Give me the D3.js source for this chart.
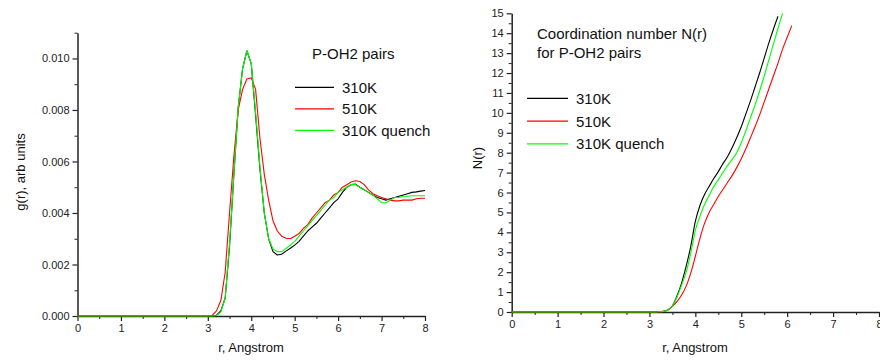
<!DOCTYPE html>
<html>
<head>
<meta charset="utf-8">
<script src="https://cdn.jsdelivr.net/npm/d3@7"></script>
<style>
  html, body { margin: 0; padding: 0; background: #fff; }
  svg { display: block; font-family: "Liberation Sans", Arial, sans-serif; }
  .axis path, .axis line { stroke: #222; }
  .axis text { fill: #222; font-size: 11px; font-family: "Liberation Sans", Arial, sans-serif; }
</style>
</head>
<body>
<svg id="chart" width="880" height="364"></svg>
<script>
// ---- Radial distribution function g(r), P-OH2 pairs ----
const gR = [0, 1, 2, 3.0, 3.1, 3.2, 3.3, 3.4, 3.5, 3.6, 3.7, 3.8, 3.9, 4.0, 4.1, 4.2, 4.3, 4.4, 4.5,
  4.6, 4.7, 4.8, 4.9, 5.0, 5.1, 5.2, 5.3, 5.4, 5.5, 5.6, 5.7, 5.8, 5.9, 6.0, 6.1, 6.2, 6.3, 6.4,
  6.5, 6.6, 6.7, 6.8, 6.9, 7.0, 7.1, 7.2, 7.3, 7.4, 7.5, 7.6, 7.7, 7.8, 7.9, 8.0];
const g310 = [0, 0, 0, 0, 0, 0.00003, 0.0002, 0.0007, 0.0027, 0.0055, 0.0081, 0.0096, 0.0103, 0.0098,
  0.0078, 0.0057, 0.0040, 0.0030, 0.0025, 0.00237, 0.0024, 0.00252, 0.00263, 0.00275, 0.0029, 0.0031,
  0.0033, 0.00345, 0.0036, 0.0038, 0.0040, 0.0042, 0.0044, 0.00455, 0.0048, 0.0050, 0.0051, 0.00512,
  0.0050, 0.0049, 0.0048, 0.0047, 0.0046, 0.00455, 0.0045, 0.00455, 0.0046, 0.00465, 0.0047, 0.00475,
  0.0048, 0.00482, 0.00485, 0.00487];
const g510 = [0, 0, 0, 0, 0.00002, 0.0002, 0.0006, 0.0017, 0.0040, 0.0062, 0.0080, 0.0088, 0.0092, 0.00925,
  0.0088, 0.0069, 0.0055, 0.0045, 0.0037, 0.0033, 0.0031, 0.00302, 0.0030, 0.0031, 0.0032, 0.0034,
  0.00355, 0.0038, 0.0040, 0.0042, 0.0044, 0.0045, 0.0047, 0.0048, 0.0050, 0.0051, 0.0052, 0.00525,
  0.00522, 0.0051, 0.0049, 0.00475, 0.00467, 0.0046, 0.00455, 0.0045, 0.00447, 0.00447, 0.0045, 0.0045,
  0.0045, 0.00455, 0.00457, 0.00457];
const g310q = [0, 0, 0, 0, 0, 0.00002, 0.00015, 0.0007, 0.0028, 0.0055, 0.0081, 0.0096, 0.0103, 0.0098,
  0.0079, 0.0058, 0.0040, 0.0030, 0.0026, 0.0025, 0.0025, 0.00262, 0.00275, 0.0029, 0.0031, 0.0033,
  0.0035, 0.0037, 0.0039, 0.0041, 0.0043, 0.0045, 0.0046, 0.0048, 0.0049, 0.0050, 0.0051, 0.0051,
  0.0050, 0.0049, 0.0048, 0.0047, 0.00455, 0.0044, 0.0044, 0.0045, 0.0046, 0.0046, 0.00465, 0.00465,
  0.00467, 0.00467, 0.00467, 0.00467];

// ---- Coordination number N(r) ----
const nR = [0, 1, 2, 3.0, 3.1, 3.2, 3.3, 3.4, 3.5, 3.6, 3.7, 3.8, 3.9, 4.0, 4.1, 4.2, 4.3, 4.4, 4.5,
  4.6, 4.7, 4.8, 4.9, 5.0, 5.1, 5.2, 5.3, 5.4, 5.5, 5.6, 5.7, 5.8, 5.9, 6.0, 6.1];
const n310 = [0, 0, 0, 0, 0, 0.01, 0.03, 0.1, 0.3, 0.8, 1.45, 2.3, 3.3, 4.55, 5.35, 5.9, 6.3, 6.7, 7.05,
  7.45, 7.8, 8.25, 8.75, 9.3, 9.95, 10.6, 11.3, 12.0, 12.75, 13.5, 14.2, 14.85];
const n510 = [0, 0, 0, 0, 0, 0.01, 0.03, 0.1, 0.28, 0.52, 0.85, 1.3, 1.95, 2.8, 3.7, 4.45, 5.0, 5.4, 5.8,
  6.15, 6.5, 6.85, 7.25, 7.7, 8.2, 8.75, 9.3, 9.9, 10.55, 11.2, 11.85, 12.5, 13.2, 13.8, 14.38];
const n310q = [0, 0, 0, 0, 0, 0.01, 0.03, 0.1, 0.3, 0.75, 1.35, 2.0, 2.95, 4.1, 4.8, 5.4, 5.85, 6.3, 6.65,
  7.0, 7.35, 7.65, 8.0, 8.5, 9.1, 9.75, 10.4, 11.1, 11.85, 12.65, 13.45, 14.25, 15.0];

const seriesNames = ["310K", "510K", "310K quench"];
const seriesColors = ["#000000", "#ff0000", "#00ff00"];

const xTicks = [0, 1, 2, 3, 4, 5, 6, 7, 8];
const xMinor = [0.5, 1.5, 2.5, 3.5, 4.5, 5.5, 6.5, 7.5];
const gTicks = [0, 0.002, 0.004, 0.006, 0.008, 0.010];
const gMinor = [0.001, 0.003, 0.005, 0.007, 0.009, 0.011];
const nTicks = d3.range(0, 16);
const nMinor = d3.range(0.5, 15, 1);

const svg = d3.select("#chart");

function drawPanel(opt) {
  const x = d3.scaleLinear().domain(opt.xDomain).range(opt.xRange);
  const y = d3.scaleLinear().domain(opt.yDomain).range(opt.yRange);
  const g = svg.append("g");
  const y0 = opt.yRange[0], x0 = opt.xRange[0];

  // minor ticks
  g.append("g").attr("class", "axis").attr("transform", `translate(0,${y0})`)
    .call(d3.axisBottom(x).tickValues(xMinor).tickSize(3).tickFormat(""))
    .call(s => s.select(".domain").remove());
  g.append("g").attr("class", "axis").attr("transform", `translate(${x0},0)`)
    .call(d3.axisLeft(y).tickValues(opt.yMinor).tickSize(3).tickFormat(""))
    .call(s => s.select(".domain").remove());

  // major axes
  const xa = g.append("g").attr("class", "axis").attr("transform", `translate(0,${y0})`)
    .call(d3.axisBottom(x).tickValues(xTicks).tickSize(5).tickSizeOuter(0).tickPadding(3).tickFormat(d3.format("d")));
  const ya = g.append("g").attr("class", "axis").attr("transform", `translate(${x0},0)`)
    .call(d3.axisLeft(y).tickValues(opt.yTicks).tickSize(5).tickSizeOuter(0).tickPadding(3).tickFormat(opt.yFormat));
  [xa, ya].forEach(a => {
    a.select(".domain").attr("stroke-width", 1.5);
    a.selectAll(".tick line").attr("stroke-width", 1.2);
  });

  // series lines
  const line = d3.line().curve(opt.curve).x(d => x(d[0])).y(d => y(d[1]));
  opt.series.forEach((vals, i) => {
    const pts = vals.map((v, j) => [opt.r[j], v]);
    g.append("path").datum(pts)
      .attr("fill", "none").attr("stroke", seriesColors[i])
      .attr("stroke-width", 1.1).attr("stroke-linejoin", "round")
      .attr("d", line);
  });

  // axis titles
  g.append("text").attr("x", opt.xTitlePos[0]).attr("y", opt.xTitlePos[1])
    .attr("text-anchor", "middle").attr("font-size", 13).attr("fill", "#111")
    .text("r, Angstrom");
  g.append("text").attr("transform", `translate(${opt.yTitlePos[0]},${opt.yTitlePos[1]}) rotate(-90)`)
    .attr("text-anchor", "middle").attr("font-size", 13).attr("fill", "#111")
    .text(opt.yTitle);

  // caption lines
  opt.caption.forEach((t, i) => {
    g.append("text").attr("x", opt.captionPos[0]).attr("y", opt.captionPos[1] + i * 19.5)
      .attr("font-size", 15).attr("fill", "#111").text(t);
  });

  // legend
  seriesNames.forEach((name, i) => {
    const ly = opt.legendPos[1] + i * opt.legendStep;
    g.append("line").attr("x1", opt.legendPos[0]).attr("x2", opt.legendPos[0] + opt.legendLen)
      .attr("y1", ly).attr("y2", ly).attr("stroke", seriesColors[i]).attr("stroke-width", 1.3);
    g.append("text").attr("x", opt.legendPos[0] + opt.legendLen + 8).attr("y", ly + 5.5)
      .attr("font-size", 15).attr("fill", "#111").text(name);
  });
}

drawPanel({
  r: gR, series: [g310, g510, g310q], curve: d3.curveLinear,
  xDomain: [0, 8], xRange: [77.5, 425],
  yDomain: [0, 0.011], yRange: [316, 32.7],
  yTicks: gTicks, yMinor: gMinor, yFormat: d3.format(".3f"),
  xTitlePos: [251, 352], yTitlePos: [25, 172], yTitle: "g(r), arb units",
  caption: ["P-OH2 pairs"], captionPos: [312, 58.5],
  legendPos: [295, 87.3], legendStep: 21.5, legendLen: 39
});

drawPanel({
  r: nR, series: [n310, n510, n310q], curve: d3.curveMonotoneX,
  xDomain: [0, 8], xRange: [511.7, 879],
  yDomain: [0, 15], yRange: [312, 13.3],
  yTicks: nTicks, yMinor: nMinor, yFormat: d3.format("d"),
  xTitlePos: [695, 352], yTitlePos: [482, 158], yTitle: "N(r)",
  caption: ["Coordination number N(r)", "for P-OH2 pairs"], captionPos: [537, 38.5],
  legendPos: [527, 98.3], legendStep: 22.8, legendLen: 41
});
</script>
</body>
</html>
